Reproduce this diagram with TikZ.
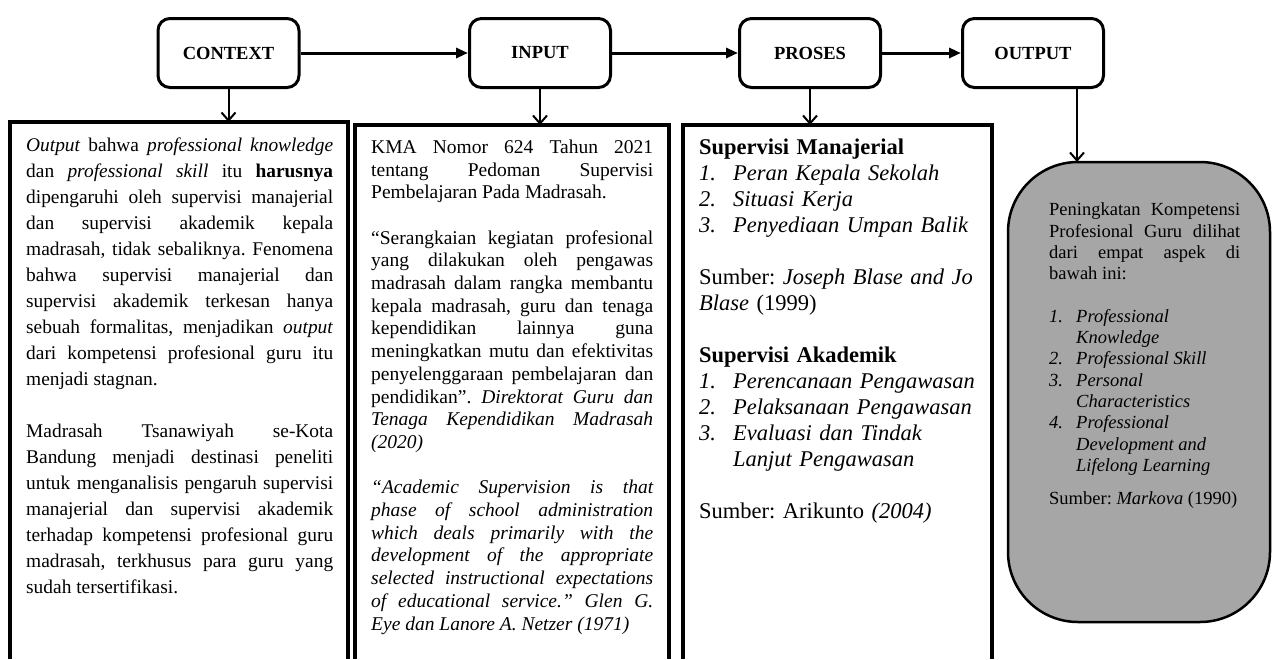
\documentclass[tikz,border=0pt]{standalone}
\usepackage{fontspec}
\setmainfont{Liberation Serif}
\usetikzlibrary{arrows.meta,positioning}
\definecolor{outgray}{RGB}{166,166,166}
\setlength{\parindent}{0pt}
\frenchspacing
\hyphenpenalty=10000 \exhyphenpenalty=10000
\tolerance=10000 \hbadness=10000
\newcommand{\gapline}{\par\vspace{\baselineskip}}
\newcommand{\numrow}[3]{\par\hangindent=#1\hangafter=1\noindent\makebox[#1][l]{\textit{#2.}}\textit{#3}}
\begin{document}
\begin{tikzpicture}[x=1pt,y=-1pt,
  stagebox/.style={draw,rounded corners=12pt,line width=3pt,minimum width=141pt,minimum height=69pt,font=\bfseries\fontsize{18.5}{22}\selectfont},
  framebox/.style={anchor=north west,inner sep=0pt,outer sep=0pt},
  coltext/.style={anchor=north west,inner sep=0pt,align=justify},
  flow/.style={line width=3pt,-{Triangle[length=12pt,width=10pt]}},
  drop/.style={line width=2pt,-{Straight Barb[length=8pt,width=14pt]}},
  rim/.style={line width=3.5pt}]
\useasboundingbox (0,0) rectangle (1272,659);
\node[stagebox] (context) at (228.5,53) {CONTEXT};
\node[stagebox] (input) at (540,53) {INPUT};
\node[stagebox] (proses) at (810,53) {PROSES};
\node[stagebox] (output) at (1033,53) {OUTPUT};
% frames open at the bottom
\node[framebox,minimum width=338pt,minimum height=537pt] (ctxframe) at (10,122) {};
\node[framebox,minimum width=314pt,minimum height=534pt] (inframe) at (355,125) {};
\node[framebox,minimum width=309pt,minimum height=534pt] (prframe) at (683,125) {};
\foreach \f in {ctxframe,inframe,prframe}
  \draw[rim] (\f.south west) |- (\f.north east) -- (\f.south east);
\node[framebox,minimum width=262pt,minimum height=460pt,draw,fill=outgray,line width=2.5pt,rounded corners=70pt] (outbox) at (1008,162) {};
\node[coltext,text width=307pt,font=\fontsize{19.4}{26}\selectfont,below right=11pt and 16pt of ctxframe.north west] (ctxtext) {\strut\textit{Output} bahwa \textit{professional knowledge}\linebreak
dan \textit{professional skill} itu \textbf{harusnya}\linebreak
dipengaruhi oleh supervisi manajerial\linebreak
dan supervisi akademik kepala\linebreak
madrasah, tidak sebaliknya. Fenomena\linebreak
bahwa supervisi manajerial dan\linebreak
supervisi akademik terkesan hanya\linebreak
sebuah formalitas, menjadikan \textit{output}\linebreak
dari kompetensi profesional guru itu\linebreak
menjadi stagnan.
\gapline
Madrasah Tsanawiyah se-Kota\linebreak
Bandung menjadi destinasi peneliti\linebreak
untuk menganalisis pengaruh supervisi\linebreak
manajerial dan supervisi akademik\linebreak
terhadap kompetensi profesional guru\linebreak
madrasah, terkhusus para guru yang\linebreak
sudah tersertifikasi.};
\node[coltext,text width=282pt,font=\fontsize{19.5}{22.7}\selectfont,below right=12.3pt and 16pt of inframe.north west] (intext) {\strut KMA Nomor 624 Tahun 2021\linebreak
tentang Pedoman Supervisi\linebreak
Pembelajaran Pada Madrasah.
\gapline
“Serangkaian kegiatan profesional\linebreak
yang dilakukan oleh pengawas\linebreak
madrasah dalam rangka membantu\linebreak
kepala madrasah, guru dan tenaga\linebreak
kependidikan lainnya guna\linebreak
meningkatkan mutu dan efektivitas\linebreak
penyelenggaraan pembelajaran dan\linebreak
pendidikan”. \textit{Direktorat Guru dan\linebreak
Tenaga Kependidikan Madrasah\linebreak
(2020)}
\gapline
\textit{“Academic Supervision is that\linebreak
phase of school administration\linebreak
which deals primarily with the\linebreak
development of the appropriate\linebreak
selected instructional expectations\linebreak
of educational service.” Glen G.\linebreak
Eye dan Lanore A. Netzer (1971)}};
\node[coltext,align=left,text width=290pt,font=\fontsize{22.5}{26}\selectfont,below right=10.8pt and 16pt of prframe.north west] (prtext) {\strut\textbf{Supervisi Manajerial}
\numrow{34pt}{1}{Peran Kepala Sekolah}
\numrow{34pt}{2}{Situasi Kerja}
\numrow{34pt}{3}{Penyediaan Umpan Balik}
\gapline
Sumber: \textit{Joseph Blase and Jo}\newline\textit{Blase} (1999)
\gapline
\textbf{Supervisi Akademik}
\numrow{34pt}{1}{Perencanaan Pengawasan}
\numrow{34pt}{2}{Pelaksanaan Pengawasan}
\numrow{34pt}{3}{Evaluasi dan Tindak\newline Lanjut Pengawasan}
\gapline
Sumber: Arikunto \textit{(2004)}};
\node[coltext,text width=191pt,font=\fontsize{18.5}{21.3}\selectfont,below right=38.6pt and 41pt of outbox.north west] (outtext) {\strut Peningkatan Kompetensi\linebreak
Profesional Guru dilihat\linebreak
dari empat aspek di\linebreak
bawah ini:
\gapline
\numrow{27pt}{1}{Professional\newline Knowledge}
\numrow{27pt}{2}{Professional Skill}
\numrow{27pt}{3}{Personal\newline Characteristics}
\numrow{27pt}{4}{Professional\newline Development and\newline Lifelong Learning}
\par\vspace{12pt}
Sumber: \textit{Markova} (1990)};
\foreach \u/\v in {context/input,input/proses,proses/output}
  \draw[flow] (\u)--(\v);
\foreach \u/\v in {context/ctxframe,input/inframe,proses/prframe}
  \draw[drop] (\u.south)--(\u.south |- \v.north);
\coordinate (outdrop) at ([xshift=44pt]output.south);
\draw[drop] (outdrop)--(outdrop |- outbox.north);
\end{tikzpicture}
\end{document}
